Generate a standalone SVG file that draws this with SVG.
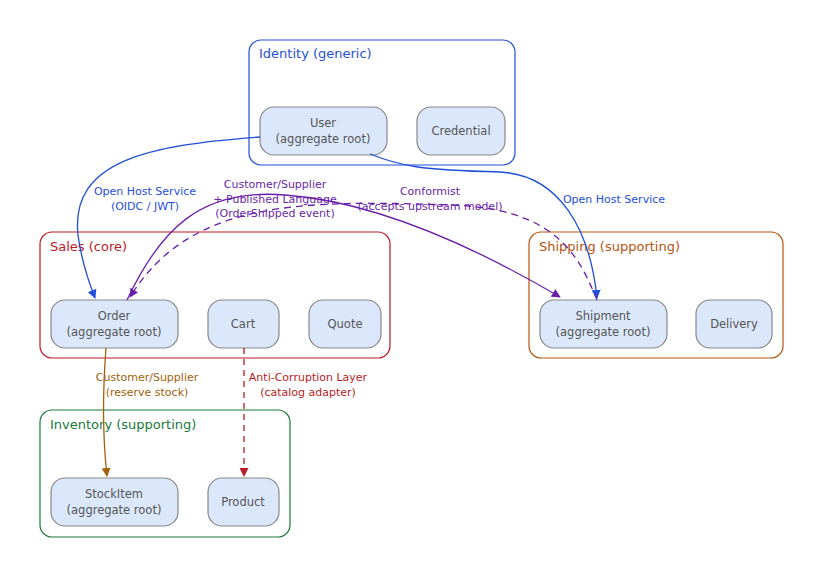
<svg xmlns="http://www.w3.org/2000/svg" width="823" height="577" viewBox="0 0 823 577">
<defs>
<style>
text{font-family:"DejaVu Sans",sans-serif}
.cl{fill:#fff;stroke-width:1.2}
.ct{font-size:13px}
.n rect{fill:#dbe8fb;stroke:#888;stroke-width:1.2}
.n text{font-size:11.5px;fill:#555;text-anchor:middle}
.e{fill:none;stroke-width:1.3}
.el{font-size:11px;text-anchor:middle}
</style>
<marker id="ab" viewBox="0 0 10 10" refX="9" refY="5" markerWidth="9" markerHeight="9" markerUnits="userSpaceOnUse" orient="auto"><path d="M0,0L10,5L0,10z" fill="#1f4fd8"/></marker>
<marker id="ap" viewBox="0 0 10 10" refX="9" refY="5" markerWidth="9" markerHeight="9" markerUnits="userSpaceOnUse" orient="auto"><path d="M0,0L10,5L0,10z" fill="#6a1fa8"/></marker>
<marker id="ao" viewBox="0 0 10 10" refX="9" refY="5" markerWidth="9" markerHeight="9" markerUnits="userSpaceOnUse" orient="auto"><path d="M0,0L10,5L0,10z" fill="#a0620a"/></marker>
<marker id="ar" viewBox="0 0 10 10" refX="9" refY="5" markerWidth="9" markerHeight="9" markerUnits="userSpaceOnUse" orient="auto"><path d="M0,0L10,5L0,10z" fill="#b81c24"/></marker>
</defs>
<rect width="823" height="577" fill="#fff"/>
<g id="identity"><rect class="cl" x="249" y="40" width="266" height="125" rx="12" stroke="#1f4fd8"/><text class="ct" x="259" y="58" fill="#1f4fd8">Identity (generic)</text></g>
<g id="sales"><rect class="cl" x="40" y="232" width="350" height="126" rx="12" stroke="#b81c24"/><text class="ct" x="50" y="251" fill="#b81c24">Sales (core)</text></g>
<g id="shipping"><rect class="cl" x="529" y="232" width="254" height="126" rx="12" stroke="#b5540f"/><text class="ct" x="539" y="251" fill="#b5540f">Shipping (supporting)</text></g>
<g id="inventory"><rect class="cl" x="40" y="410" width="250" height="127" rx="12" stroke="#1a7a3a"/><text class="ct" x="50" y="429" fill="#1a7a3a">Inventory (supporting)</text></g>
<g id="user" class="n"><rect x="260" y="107" width="127" height="48" rx="14"/><text x="323" y="127">User</text><text x="323" y="143">(aggregate root)</text></g>
<g id="credential" class="n"><rect x="417" y="107" width="88" height="48" rx="14"/><text x="461" y="135">Credential</text></g>
<g id="order" class="n"><rect x="51" y="300" width="127" height="48" rx="14"/><text x="114" y="320">Order</text><text x="114" y="336">(aggregate root)</text></g>
<g id="cart" class="n"><rect x="208" y="300" width="71" height="48" rx="14"/><text x="243" y="328">Cart</text></g>
<g id="quote" class="n"><rect x="309" y="300" width="72" height="48" rx="14"/><text x="345" y="328">Quote</text></g>
<g id="shipment" class="n"><rect x="540" y="300" width="127" height="48" rx="14"/><text x="603" y="320">Shipment</text><text x="603" y="336">(aggregate root)</text></g>
<g id="delivery" class="n"><rect x="696" y="300" width="76" height="48" rx="14"/><text x="734" y="328">Delivery</text></g>
<g id="stockitem" class="n"><rect x="51" y="478" width="127" height="48" rx="14"/><text x="114" y="498">StockItem</text><text x="114" y="514">(aggregate root)</text></g>
<g id="product" class="n"><rect x="208" y="478" width="71" height="48" rx="14"/><text x="243" y="506">Product</text></g>
<g id="connectors">
<path class="e" stroke="#1f4fd8" marker-end="url(#ab)" d="M260,137 C150,145 70,160 78,235 C82,265 90,285 95,298"/>
<text class="el" fill="#1f4fd8" x="145" y="195">Open Host Service</text><text class="el" fill="#1f4fd8" x="145" y="210">(OIDC / JWT)</text>
<path class="e" stroke="#1f4fd8" marker-end="url(#ab)" d="M370,154 C400,166 420,170 500,172 C560,175 590,230 597,298"/>
<text class="el" fill="#1f4fd8" x="614" y="203">Open Host Service</text>
<path class="e" stroke="#6a1fa8" marker-end="url(#ap)" d="M127,300 C160,230 200,188 285,195 C380,202 480,250 560,297"/>
<path class="e" stroke="#6a1fa8" stroke-dasharray="7,5" marker-end="url(#ap)" d="M597,300 C580,260 560,208 450,205 C300,200 190,200 130,297"/>
<text class="el" fill="#6a1fa8" x="275" y="188">Customer/Supplier</text><text class="el" fill="#6a1fa8" x="275" y="203">+ Published Language</text><text class="el" fill="#6a1fa8" x="275" y="217">(OrderShipped event)</text>
<text class="el" fill="#6a1fa8" x="430" y="195">Conformist</text><text class="el" fill="#6a1fa8" x="430" y="210">(accepts upstream model)</text>
<path class="e" stroke="#a0620a" marker-end="url(#ao)" d="M106,348 C102,400 103,440 107,476"/>
<text class="el" fill="#a0620a" x="147" y="381">Customer/Supplier</text><text class="el" fill="#a0620a" x="147" y="396">(reserve stock)</text>
<path class="e" stroke="#b81c24" stroke-dasharray="6,5" marker-end="url(#ar)" d="M244,348 L244,476"/>
<text class="el" fill="#b81c24" x="308" y="381">Anti-Corruption Layer</text><text class="el" fill="#b81c24" x="308" y="396">(catalog adapter)</text>
</g>
</svg>
